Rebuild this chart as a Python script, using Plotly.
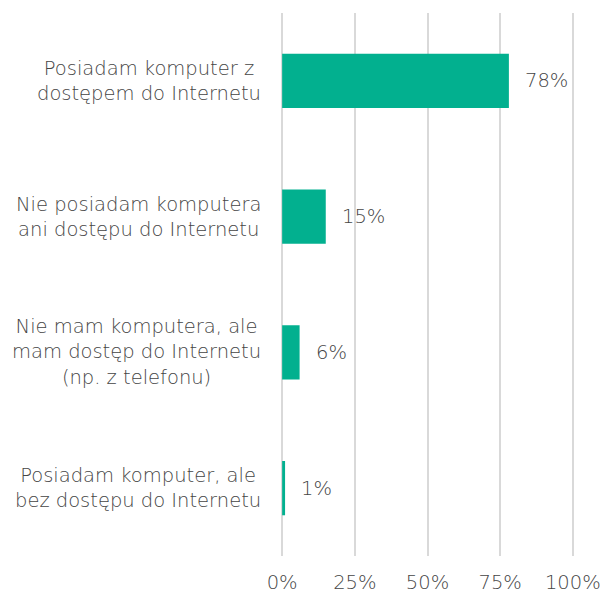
import plotly.graph_objects as go

categories = [
    "Posiadam komputer z<br>dostępem do Internetu",
    "Nie posiadam komputera<br>ani dostępu do Internetu",
    "Nie mam komputera, ale<br>mam dostęp do Internetu<br>(np. z telefonu)",
    "Posiadam komputer, ale<br>bez dostępu do Internetu",
]
values = [78, 15, 6, 1]
tick_vals = [0, 25, 50, 75, 100]
tick_text = ["0%", "25%", "50%", "75%", "100%"]

FONT = "DejaVu Sans"
GREY = "#454545"
SIZE = 19.5
label_font = dict(family=FONT, size=SIZE, color=GREY, weight=200)

fig = go.Figure(
    go.Bar(
        y=categories,
        x=values,
        orientation="h",
        marker=dict(color="#02B08F", line=dict(width=0)),
        width=0.4,
    )
)

# value labels to the right of each bar
for cat, v in zip(categories, values):
    fig.add_annotation(
        x=v, y=cat, xref="x", yref="y",
        text=f"{v}%", showarrow=False,
        xanchor="left", xshift=14,
        font=label_font,
    )

# centred multi-line category labels left of the plot
for cat in categories:
    fig.add_annotation(
        x=0, y=cat, xref="paper", yref="y",
        text=cat, showarrow=False,
        xanchor="right", xshift=-18, align="center",
        font=label_font,
    )

fig.update_layout(
    width=602,
    height=594,
    margin=dict(l=281, r=28, t=13, b=38),
    plot_bgcolor="white",
    paper_bgcolor="white",
    showlegend=False,
    font=label_font,
    xaxis=dict(
        range=[-0.4, 100.4],
        tickvals=tick_vals,
        ticktext=tick_text,
        showgrid=True,
        gridcolor="#d9d9d9",
        gridwidth=1.5,
        zeroline=False,
        showline=False,
        ticks="",
        ticklabelstandoff=12,
        automargin=False,
        tickfont=label_font,
    ),
    yaxis=dict(
        autorange="reversed",
        showgrid=False,
        zeroline=False,
        showline=False,
        showticklabels=False,
        ticks="",
        automargin=False,
    ),
)

fig.write_html("out.html")
